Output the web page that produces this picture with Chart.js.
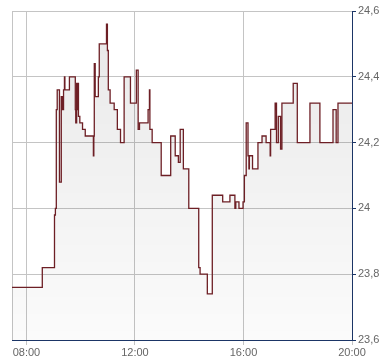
<!DOCTYPE html>
<html>
<head>
<meta charset="utf-8">
<script src="https://cdn.jsdelivr.net/npm/chart.js@4.4.1/dist/chart.umd.min.js"></script>
<style>
  html, body { margin: 0; padding: 0; background: #fff; }
  #wrap { width: 390px; height: 364px; }
</style>
</head>
<body>
<div id="wrap"><canvas id="priceChart" width="390" height="364"></canvas></div>
<script>
// intraday ticks (time, price)
const times = [
    '07:28', '08:35', '09:02', '09:04', '09:06', '09:08', '09:13', '09:17', '09:18', '09:19',
    '09:20', '09:22', '09:24', '09:25', '09:35', '09:48', '09:49', '09:51', '09:52', '09:53',
    '09:55', '09:58', '10:04', '10:10', '10:28', '10:29', '10:30', '10:32', '10:39', '10:41',
    '10:57', '10:59', '11:01', '11:05', '11:14', '11:21', '11:28', '11:36', '11:50', '12:03',
    '12:07', '12:10', '12:29', '12:32', '12:33', '12:38', '12:58', '13:19', '13:29', '13:36',
    '13:40', '13:47', '13:59', '14:21', '14:24', '14:40', '14:51', '15:14', '15:30', '15:41',
    '15:43', '15:50', '15:59', '16:02', '16:06', '16:10', '16:12', '16:13', '16:20', '16:32',
    '16:41', '16:50', '16:59', '17:00', '17:10', '17:11', '17:12', '17:13', '17:17', '17:22',
    '17:25', '17:50', '17:59', '18:27', '18:49', '19:18', '19:25', '19:29', '20:00'
];
const prices = [
    23.76, 23.82, 23.98, 24.00, 24.30, 24.36, 24.08, 24.34, 24.30, 24.34,
    24.30, 24.36, 24.40, 24.36, 24.40, 24.30, 24.26, 24.38, 24.30, 24.38,
    24.28, 24.26, 24.24, 24.22, 24.16, 24.22, 24.44, 24.34, 24.40, 24.50,
    24.56, 24.48, 24.36, 24.32, 24.30, 24.24, 24.20, 24.40, 24.32, 24.42,
    24.24, 24.26, 24.30, 24.36, 24.24, 24.20, 24.10, 24.22, 24.16, 24.14,
    24.24, 24.12, 24.00, 23.82, 23.80, 23.74, 24.04, 24.02, 24.04, 24.00,
    24.02, 24.00, 24.02, 24.10, 24.26, 24.16, 24.12, 24.16, 24.12, 24.20,
    24.22, 24.20, 24.16, 24.24, 24.32, 24.30, 24.32, 24.20, 24.28, 24.18,
    24.32, 24.38, 24.20, 24.32, 24.20, 24.30, 24.20, 24.32, 24.32
];
const xTicks = [8, 12, 16, 20];
const yMin = 23.6;
const yMax = 24.6;
const yStep = 0.2;

const toHours = t => {
    const p = t.split(':');
    return parseInt(p[0], 10) + parseInt(p[1], 10) / 60;
};

const points = times.map((t, i) => ({ x: toHours(t), y: prices[i] }));

const axisColor = '#1b3566';
const gridColor = '#c4c4c4';

// left frame line
const frameLeft = {
    id: 'frameLeft',
    beforeDatasetsDraw(chart) {
        const a = chart.chartArea;
        const ctx = chart.ctx;
        ctx.save();
        ctx.strokeStyle = gridColor;
        ctx.lineWidth = 1;
        ctx.beginPath();
        ctx.moveTo(Math.round(a.left) + 0.5, a.top);
        ctx.lineTo(Math.round(a.left) + 0.5, a.bottom);
        ctx.stroke();
        ctx.restore();
    }
};

const ctx = document.getElementById('priceChart');
new Chart(ctx, {
    type: 'line',
    data: {
        datasets: [{
            data: points,
            stepped: true,
            borderColor: '#6d1f25',
            borderWidth: 1.3,
            pointRadius: 0,
            fill: 'start',
            backgroundColor: function (context) {
                const area = context.chart.chartArea;
                if (!area) return 'rgba(0,0,0,0.05)';
                const g = context.chart.ctx.createLinearGradient(0, area.top, 0, area.bottom);
                g.addColorStop(0, 'rgba(0,0,0,0.09)');
                g.addColorStop(1, 'rgba(0,0,0,0.015)');
                return g;
            }
        }]
    },
    options: {
        responsive: false,
        animation: false,
        layout: {
            padding: { left: 12, top: 11, right: 0, bottom: 0 }
        },
        plugins: {
            legend: { display: false },
            tooltip: { enabled: false }
        },
        scales: {
            x: {
                type: 'linear',
                min: toHours(times[0]),
                max: 20,
                afterBuildTicks: axis => {
                    axis.ticks = xTicks.map(v => ({ value: v }));
                },
                afterFit: axis => { axis.height = 24; },
                border: { color: axisColor, width: 1 },
                grid: {
                    color: gridColor,
                    tickColor: gridColor,
                    tickLength: 5
                },
                ticks: {
                    padding: 1,
                    maxRotation: 0,
                    color: '#666',
                    font: { family: 'Arial, "Liberation Sans"', size: 11 },
                    callback: v => (v < 10 ? '0' : '') + Math.round(v) + ':00'
                }
            },
            y: {
                position: 'right',
                min: yMin,
                max: yMax,
                afterFit: axis => { axis.width = 38; },
                border: { color: axisColor, width: 1 },
                grid: {
                    color: gridColor,
                    tickColor: axisColor,
                    tickLength: 4
                },
                ticks: {
                    stepSize: yStep,
                    padding: 2,
                    color: '#666',
                    font: { family: 'Arial, "Liberation Sans"', size: 11 },
                    callback: v => String(Number(v.toFixed(1))).replace('.', ',')
                }
            }
        }
    },
    plugins: [frameLeft]
});
</script>
</body>
</html>
